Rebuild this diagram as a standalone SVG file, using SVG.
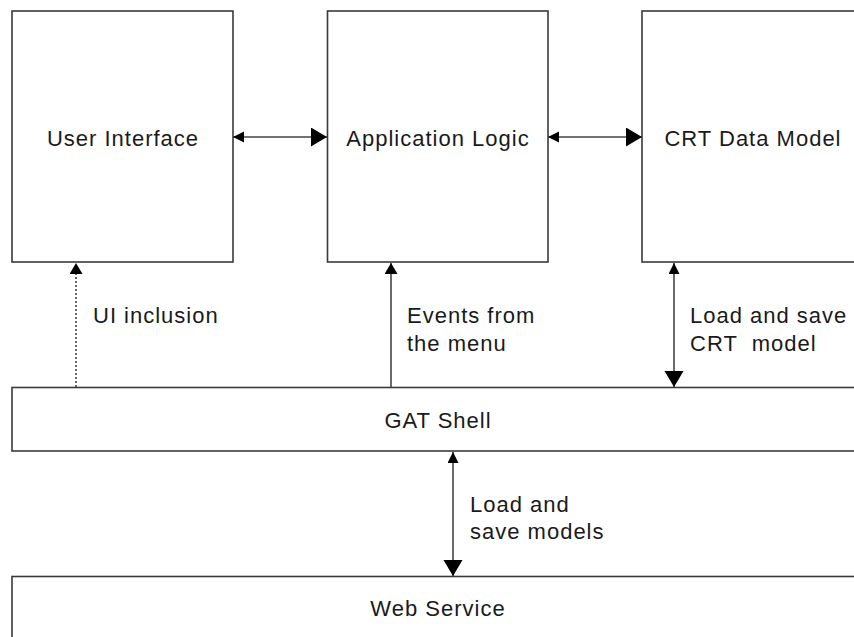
<svg xmlns="http://www.w3.org/2000/svg" width="854" height="637" viewBox="0 0 854 637">
<style>
.box{fill:#fff;stroke:#3a3a3a;stroke-width:1.6}
.t{font-family:"Liberation Sans",Arial,sans-serif;font-size:22px;letter-spacing:1px;fill:#1a1a1a}
.c{text-anchor:middle}
.ln{stroke:#444;stroke-width:1.6;fill:none}
.dot{stroke-dasharray:2,2}
</style>
<defs>
<marker id="sm" markerUnits="userSpaceOnUse" markerWidth="12" markerHeight="12" refX="11" refY="5.5" orient="auto-start-reverse"><path d="M0,0 L11,5.5 L0,11 z" fill="#000"/></marker>
<marker id="lg" markerUnits="userSpaceOnUse" markerWidth="17" markerHeight="20" refX="16" refY="9.5" orient="auto-start-reverse"><path d="M0,0 L16,9.5 L0,19 z" fill="#000"/></marker>
<marker id="sm-end" markerUnits="userSpaceOnUse" markerWidth="12" markerHeight="13" refX="11" refY="6.5" orient="auto"><path d="M0,0 L11,6.5 L0,13 z" fill="#000"/></marker>
</defs>
<g id="user-interface"><rect class="box" x="12" y="11" width="221" height="251"/><text class="t c" x="123" y="146">User Interface</text></g>
<g id="application-logic"><rect class="box" x="327.5" y="11" width="220.5" height="251"/><text class="t c" x="438" y="146">Application Logic</text></g>
<g id="crt-data-model"><rect class="box" x="642" y="11" width="222" height="251"/><text class="t c" x="753" y="146">CRT Data Model</text></g>
<g id="gat-shell"><rect class="box" x="12" y="387.5" width="852" height="63.5"/><text class="t c" x="438" y="428">GAT Shell</text></g>
<g id="web-service"><rect class="box" x="12" y="576.5" width="852" height="80"/><text class="t c" x="438" y="616">Web Service</text></g>
<g id="connectors">
<line class="ln" x1="233" y1="137" x2="327" y2="137" marker-start="url(#sm)" marker-end="url(#lg)"/>
<line class="ln" x1="548" y1="137" x2="642" y2="137" marker-start="url(#sm)" marker-end="url(#lg)"/>
<line class="ln dot" x1="76" y1="387" x2="76" y2="263" marker-end="url(#sm-end)"/>
<line class="ln" x1="391" y1="387" x2="391" y2="263" marker-end="url(#sm-end)"/>
<line class="ln" x1="674" y1="263" x2="674" y2="387" marker-start="url(#sm)" marker-end="url(#lg)"/>
<line class="ln" x1="453" y1="452" x2="453" y2="576" marker-start="url(#sm)" marker-end="url(#lg)"/>
<text class="t" x="93" y="323">UI inclusion</text>
<text class="t" x="407" y="323">Events from</text>
<text class="t" x="407" y="351">the menu</text>
<text class="t" x="690" y="323">Load and save</text>
<text class="t" x="690" y="351" style="white-space:pre">CRT  model</text>
<text class="t" x="470" y="512">Load and</text>
<text class="t" x="470" y="539">save models</text>
</g>
</svg>
